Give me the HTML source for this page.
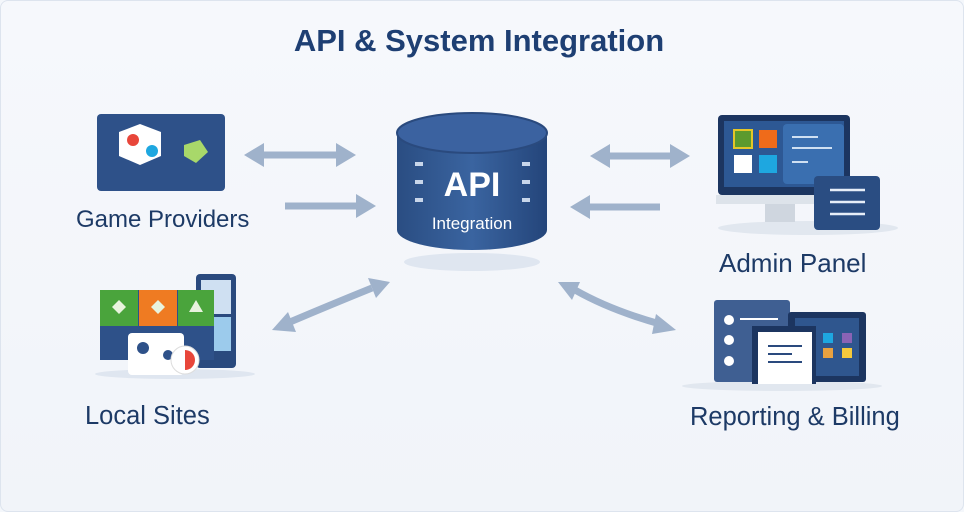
<!DOCTYPE html>
<html><head><style>
body{margin:0;width:964px;height:512px;overflow:hidden;background:#f4f7fb;font-family:"Liberation Sans",sans-serif}
.t{position:absolute;color:#1d3a66;font-size:25px;white-space:nowrap}
</style></head><body>
<div style="position:absolute;left:0;top:0;width:962px;height:510px;border:1px solid #dde4ee;border-radius:8px;background:linear-gradient(#f6f8fc,#f1f4f9)"></div>
<div class="t" style="left:0;width:958px;text-align:center;top:23px;font-size:31px;font-weight:bold;color:#1e3f73">API &amp; System Integration</div>
<svg width="964" height="512" style="position:absolute;left:0;top:0">
<defs>
<linearGradient id="cy" x1="0" x2="1"><stop offset="0" stop-color="#2a4d82"/><stop offset=".5" stop-color="#3a64a0"/><stop offset="1" stop-color="#24457a"/></linearGradient>
</defs>
<g stroke="#9fb2cb" stroke-width="7" fill="#9fb2cb">
<line x1="262" y1="155" x2="338" y2="155"/><polygon points="244,155 264,143 264,167" stroke="none"/><polygon points="356,155 336,143 336,167" stroke="none"/>
<line x1="285" y1="206" x2="356" y2="206"/><polygon points="376,206 356,194 356,218" stroke="none"/>
<line x1="608" y1="156" x2="672" y2="156"/><polygon points="590,156 610,144 610,168" stroke="none"/><polygon points="690,156 670,144 670,168" stroke="none"/>
<line x1="590" y1="207" x2="660" y2="207"/><polygon points="570,207 590,195 590,219" stroke="none"/>
<path d="M290 322 Q330 305 372 288" fill="none"/><polygon points="272,330 288,312 296,332" stroke="none"/><polygon points="390,282 368,278 376,298" stroke="none"/>
<path d="M575 290 Q610 310 660 324" fill="none"/><polygon points="558,282 580,282 572,300" stroke="none"/><polygon points="676,330 656,314 652,334" stroke="none"/>
</g>
<ellipse cx="472" cy="262" rx="68" ry="9" fill="#dfe6f0"/>
<path d="M397 133 V230 A75 20 0 0 0 547 230 V133 Z" fill="url(#cy)"/>
<ellipse cx="472" cy="133" rx="75" ry="20" fill="#3b62a0" stroke="#2a4a7e" stroke-width="2"/>
<g fill="#c8d6ea"><rect x="415" y="162" width="8" height="4"/><rect x="415" y="180" width="8" height="4"/><rect x="415" y="198" width="8" height="4"/><rect x="522" y="162" width="8" height="4"/><rect x="522" y="180" width="8" height="4"/><rect x="522" y="198" width="8" height="4"/></g>
<text x="472" y="196" text-anchor="middle" font-family="Liberation Sans" font-size="34" font-weight="bold" fill="#fff">API</text>
<text x="472" y="229" text-anchor="middle" font-family="Liberation Sans" font-size="17" fill="#fff">Integration</text>
<rect x="97" y="114" width="128" height="77" rx="4" fill="#2e5189"/>
<polygon points="140,124 161,132 161,156 140,165 119,156 119,132" fill="#fff"/>
<circle cx="133" cy="140" r="6" fill="#e8463a"/><circle cx="152" cy="151" r="6" fill="#1ea7e0"/>
<polygon points="184,145 200,140 208,152 196,163 184,156" fill="#a8d86a"/>
<ellipse cx="175" cy="374" rx="80" ry="5" fill="#dfe6f0"/>
<rect x="196" y="274" width="40" height="94" rx="4" fill="#2a4a7e"/><rect x="201" y="280" width="30" height="34" fill="#cfe0f2"/><rect x="201" y="317" width="30" height="34" fill="#9ccbec"/>
<rect x="100" y="290" width="114" height="70" fill="#2e5189"/>
<rect x="100" y="290" width="38" height="36" fill="#4aa43c"/><rect x="139" y="290" width="38" height="36" fill="#ef7b22"/><rect x="178" y="290" width="36" height="36" fill="#4aa43c"/>
<g fill="#e8f3de"><polygon points="119,300 126,307 119,314 112,307"/><polygon points="158,300 165,307 158,314 151,307"/><polygon points="196,300 203,312 189,312"/></g>
<rect x="128" y="333" width="56" height="42" rx="4" fill="#fff"/><circle cx="143" cy="348" r="6" fill="#2e5189"/><circle cx="168" cy="355" r="5" fill="#2e5189"/>
<circle cx="185" cy="360" r="14" fill="#fff" stroke="#ddd"/><path d="M185 350 a10 10 0 0 1 0 20z" fill="#e8463a"/>
<ellipse cx="808" cy="228" rx="90" ry="7" fill="#e1e7ef"/>
<rect x="718" y="115" width="132" height="80" rx="4" fill="#1c3560"/>
<rect x="724" y="121" width="120" height="66" fill="#2d5894"/>
<rect x="783" y="124" width="61" height="60" rx="4" fill="#3a6fb0"/>
<rect x="734" y="130" width="18" height="18" fill="#5c9a2e" stroke="#e4c628" stroke-width="2"/><rect x="759" y="130" width="18" height="18" fill="#ef6b1a"/><rect x="734" y="155" width="18" height="18" fill="#fff"/><rect x="759" y="155" width="18" height="18" fill="#1ea7e0"/>
<g stroke="#cfe0f2" stroke-width="2"><line x1="792" y1="137" x2="818" y2="137"/><line x1="792" y1="148" x2="832" y2="148"/><line x1="792" y1="162" x2="808" y2="162"/></g>
<rect x="716" y="195" width="136" height="9" fill="#dde3ea"/><rect x="765" y="204" width="30" height="18" fill="#cfd6df"/>
<rect x="814" y="176" width="66" height="54" rx="4" fill="#2a4d82"/>
<g stroke="#e6eef8" stroke-width="2.5"><line x1="830" y1="190" x2="865" y2="190"/><line x1="830" y1="202" x2="865" y2="202"/><line x1="830" y1="214" x2="865" y2="214"/></g>
<ellipse cx="782" cy="386" rx="100" ry="5" fill="#e1e7ef"/>
<rect x="714" y="300" width="76" height="82" rx="3" fill="#3f5f92"/>
<g fill="#fff"><circle cx="729" cy="320" r="5"/><circle cx="729" cy="340" r="5"/><circle cx="729" cy="361" r="5"/></g>
<line x1="740" y1="319" x2="778" y2="319" stroke="#fff" stroke-width="2"/>
<rect x="788" y="312" width="78" height="70" rx="3" fill="#1c3560"/><rect x="795" y="318" width="64" height="58" fill="#2f568e"/>
<rect x="823" y="333" width="10" height="10" fill="#1ea7e0"/><rect x="842" y="333" width="10" height="10" fill="#8a63b5"/><rect x="823" y="348" width="10" height="10" fill="#e8a140"/><rect x="842" y="348" width="10" height="10" fill="#f5c93c"/>
<rect x="752" y="326" width="64" height="58" fill="#1c3560"/><rect x="758" y="332" width="54" height="52" fill="#fff"/>
<g stroke="#2a4a7e" stroke-width="2"><line x1="768" y1="346" x2="802" y2="346"/><line x1="768" y1="354" x2="792" y2="354"/><line x1="768" y1="362" x2="802" y2="362"/></g>
</svg>
<div class="t" style="left:76px;top:206px;font-size:24px">Game Providers</div>
<div class="t" style="left:85px;top:402px;font-size:25.5px">Local Sites</div>
<div class="t" style="left:719px;top:248px;font-size:26px">Admin Panel</div>
<div class="t" style="left:690px;top:403px;font-size:25.5px">Reporting &amp; Billing</div>
</body></html>
